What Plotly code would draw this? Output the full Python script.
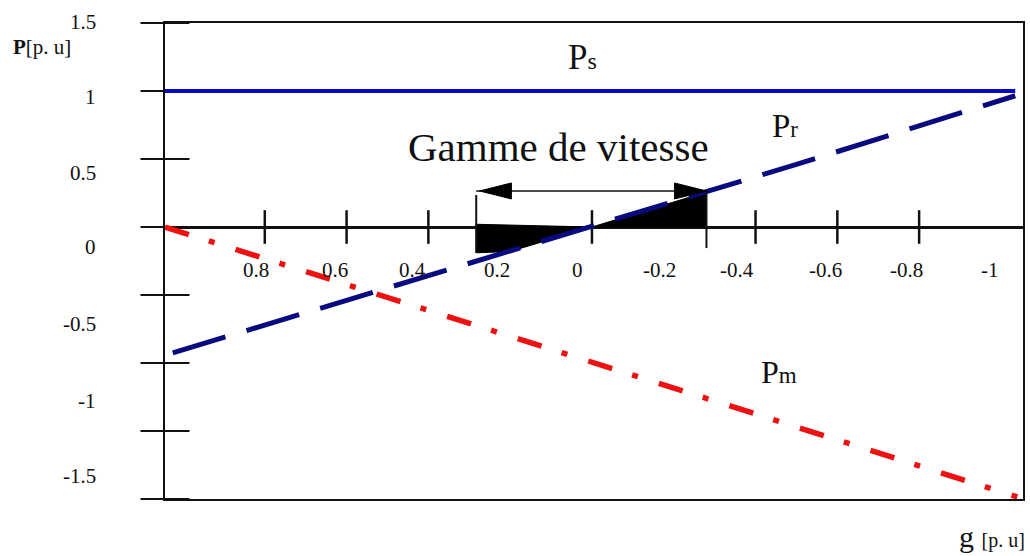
import numpy as np
import plotly.graph_objects as go

# ---------------- data ----------------
g_ps = [1.044, -1.035]
ps = [1.0, 1.0]

g_pr = [1.025, 0.5, 0.0, -0.5, -1.035]
pr = [-0.925, -0.45, 0.0, 0.46, 0.965]

g_pm = [1.044, 0.6, 0.0, -0.6, -1.04]
pm = [0.0, -0.42, -0.995, -1.565, -1.985]

x_tick_vals = [0.8, 0.6, 0.4, 0.2, 0.0, -0.2, -0.4, -0.6, -0.8, -1.0]
x_tick_text = ["0.8", "0.6", "0.4", "0.2", "0", "-0.2", "-0.4", "-0.6", "-0.8", "-1"]
x_tick_marks = [0.8, 0.6, 0.4, 0.0, -0.4, -0.6, -0.8]

y_tick_vals = [1.5, 1.0, 0.5, 0.0, -0.5, -1.0, -1.5, -2.0]
y_tick_text = ["1.5", "1", "0.5", "0", "-0.5", "-1", "-1.5"]

g_speed = [0.283, -0.28]      # speed range (Gamme de vitesse)
speed_floor = -0.19           # lower limit of the black area on the left

# ---------------- layout geometry ----------------
W, H = 1030, 556
L, R, T, B = 165, 5, 23, 57
x_range = [1.044, -1.054]
y_range = [-2.0, 1.5]
PW, PH = W - L - R, H - T - B


def px_x(px):
    return (px - L) / PW


def px_y(py):
    return (H - B - py) / PH


SERIF = "Liberation Serif"

fig = go.Figure()

# tick marks crossing the axes
fig.add_trace(go.Scatter(
    x=[x_range[0]] * len(y_tick_vals), y=y_tick_vals, mode="markers",
    marker=dict(symbol="line-ew", size=35, line=dict(width=2, color="#111")),
    cliponaxis=False, hoverinfo="skip"))
fig.add_trace(go.Scatter(
    x=x_tick_marks, y=[0] * len(x_tick_marks), mode="markers",
    marker=dict(symbol="line-ns", size=24, line=dict(width=2.5, color="#111")),
    cliponaxis=False, hoverinfo="skip"))

# black "speed range" area between axis and Pr
g_hi, g_lo = g_speed
pr_hi = max(float(np.interp(g_hi, g_pr[::-1], pr[::-1])), speed_floor)
g_mid = 0.2
pr_mid = max(float(np.interp(g_mid, g_pr[::-1], pr[::-1])), speed_floor)
pr_lo = float(np.interp(g_lo, g_pr[::-1], pr[::-1]))
fig.add_trace(go.Scatter(
    x=[g_hi, g_hi, g_mid, 0.0, g_hi], y=[0.02, pr_hi, pr_mid, 0, 0.02],
    mode="lines", fill="toself", fillcolor="black",
    line=dict(color="black", width=1), hoverinfo="skip"))
fig.add_trace(go.Scatter(
    x=[0.0, g_lo, g_lo, 0.0], y=[0, pr_lo, 0, 0],
    mode="lines", fill="toself", fillcolor="black",
    line=dict(color="black", width=1), hoverinfo="skip"))

# series
fig.add_trace(go.Scatter(x=g_ps, y=ps, mode="lines", name="Ps",
                         line=dict(color="#0808c8", width=4)))
fig.add_trace(go.Scatter(x=g_pr, y=pr, mode="lines", name="Pr",
                         line=dict(color="#0a0a80", width=5, dash="55px,22px")))
fig.add_trace(go.Scatter(x=g_pm, y=pm, mode="lines", name="Pm",
                         line=dict(color="#ee1111", width=5.5,
                                   dash="25px,21px,6px,22px")))

# speed-range arrow and its end bars
arrow_level = 0.265
head_len = 32 / 410
head_half = 8 / 136
shapes = [
    dict(type="line", xref="x", yref="y", x0=g_hi, x1=g_lo, y0=arrow_level, y1=arrow_level,
         line=dict(color="#111", width=1.5)),
    dict(type="path", xref="x", yref="y",
         path=f"M {g_hi - 0.008},{arrow_level} L {g_hi - 0.008 - head_len},{arrow_level + head_half} "
              f"L {g_hi - 0.008 - head_len},{arrow_level - head_half} Z",
         fillcolor="black", line=dict(color="black", width=1)),
    dict(type="path", xref="x", yref="y",
         path=f"M {g_lo},{arrow_level} L {g_lo + head_len},{arrow_level + head_half} "
              f"L {g_lo + head_len},{arrow_level - head_half} Z",
         fillcolor="black", line=dict(color="black", width=1)),
    dict(type="line", xref="x", yref="y", x0=g_hi, x1=g_hi, y0=0.235, y1=-0.19,
         line=dict(color="#111", width=2)),
    dict(type="line", xref="x", yref="y", x0=g_lo, x1=g_lo, y0=0.27, y1=-0.155,
         line=dict(color="#111", width=2)),
]

annotations = []
# y tick labels (as placed in the reference)
y_label_px = [22, 97, 173, 247, 324, 401, 476]
for txt, py in zip(y_tick_text, y_label_px):
    annotations.append(dict(xref="paper", yref="paper", x=px_x(98), y=px_y(py),
                            text=txt, showarrow=False, xanchor="right", yanchor="middle",
                            font=dict(family=SERIF, size=21, color="#111")))
# x tick labels
x_label_px = [256, 335, 413, 498, 578, 661, 738, 827, 908, 992]
for txt, px in zip(x_tick_text, x_label_px):
    annotations.append(dict(xref="paper", yref="paper", x=px_x(px), y=px_y(270),
                            text=txt, showarrow=False, xanchor="center", yanchor="middle",
                            font=dict(family=SERIF, size=21, color="#111")))

annotations += [
    dict(xref="paper", yref="paper", x=px_x(11), y=px_y(47), xanchor="left", yanchor="middle",
         text="<b>P</b>[p. u]", showarrow=False, font=dict(family=SERIF, size=21, color="#111")),
    dict(xref="paper", yref="paper", x=px_x(1029), y=px_y(536), xanchor="right", yanchor="middle",
         text="g <span style='font-size:20px'>[p. u]</span>", showarrow=False,
         font=dict(family=SERIF, size=30, color="#111")),
    dict(xref="paper", yref="paper", x=px_x(583), y=px_y(58), xanchor="center", yanchor="middle",
         text="P<span style='font-size:24px'>s</span>", showarrow=False,
         font=dict(family=SERIF, size=35, color="#111")),
    dict(xref="paper", yref="paper", x=px_x(786), y=px_y(126), xanchor="center", yanchor="middle",
         text="P<span style='font-size:23px'>r</span>", showarrow=False,
         font=dict(family=SERIF, size=33, color="#111")),
    dict(xref="paper", yref="paper", x=px_x(780), y=px_y(372), xanchor="center", yanchor="middle",
         text="P<span style='font-size:23px'>m</span>", showarrow=False,
         font=dict(family=SERIF, size=32, color="#111")),
    dict(xref="paper", yref="paper", x=px_x(559), y=px_y(147), xanchor="center", yanchor="middle",
         text="Gamme de vitesse", showarrow=False,
         font=dict(family=SERIF, size=41, color="#111")),
]

fig.update_layout(
    width=W, height=H, margin=dict(l=L, r=R, t=T, b=B),
    paper_bgcolor="white", plot_bgcolor="white", showlegend=False,
    xaxis=dict(range=x_range, showline=True, mirror=True, linecolor="#111", linewidth=2,
               showgrid=False, zeroline=False, showticklabels=False, ticks=""),
    yaxis=dict(range=y_range, showline=True, mirror=True, linecolor="#111", linewidth=2,
               showgrid=False, zeroline=True, zerolinecolor="#111", zerolinewidth=3,
               showticklabels=False, ticks=""),
    shapes=shapes, annotations=annotations,
)

fig.write_html("out.html")
